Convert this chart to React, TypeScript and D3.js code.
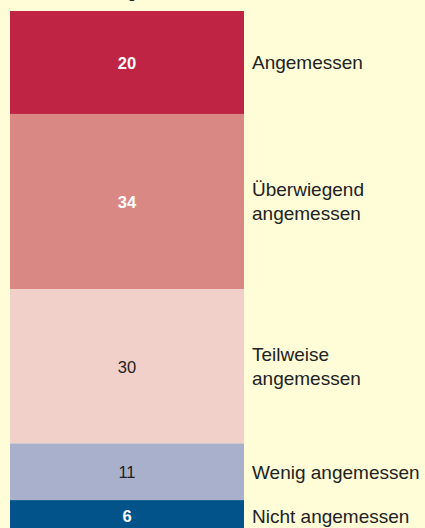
import * as d3 from "d3";

const categories = ["Angemessen", "Überwiegend angemessen", "Teilweise angemessen", "Wenig angemessen", "Nicht angemessen"];
const labelLines = [["Angemessen"], ["Überwiegend", "angemessen"], ["Teilweise", "angemessen"], ["Wenig angemessen"], ["Nicht angemessen"]];
const values = [20, 34, 30, 11, 6];
const colors = ["#c02444", "#d98883", "#f0d0c8", "#a9b0cc", "#02538a"];
const valueColors = ["#ffffff", "#ffffff", "#222222", "#222222", "#ffffff"];
const valueBold = [true, true, false, false, true];

const width = 425;
const height = 528;

export default function App() {
  const total = d3.sum(values);
  const y = d3.scaleLinear().domain([0, total]).range([11, 531]);
  const x0 = 10;
  const x1 = 244;
  const stacked = values.map((v, i) => {
    const start = d3.sum(values.slice(0, i));
    return { v, i, y0: y(start), y1: y(start + v) };
  });
  const font = "'Liberation Sans', Arial, Helvetica, sans-serif";

  return (
    <div style={{ position: "fixed", left: 0, top: 0 }}>
      <svg width={width} height={height} style={{ display: "block" }}>
        <rect width={width} height={height} fill="#fffcd8" />
        <text x={64} y={-2} fontFamily={font} fontSize={14} fontWeight="bold" fill="#222">
          Bewertung
        </text>
        {stacked.map((d) => (
          <g key={categories[d.i]}>
            <rect x={x0} y={d.y0} width={x1 - x0} height={d.y1 - d.y0} fill={colors[d.i]} />
            <text
              x={(x0 + x1) / 2}
              y={(d.y0 + d.y1) / 2 + 0.5}
              textAnchor="middle"
              dominantBaseline="central"
              fontFamily={font}
              fontSize={16.5}
              fontWeight={valueBold[d.i] ? "bold" : "normal"}
              fill={valueColors[d.i]}
            >
              {d.v}
            </text>
            {labelLines[d.i].map((line, j) => (
              <text
                key={j}
                x={252}
                y={(d.y0 + d.y1) / 2 + 0.5 + (j - (labelLines[d.i].length - 1) / 2) * 24}
                dominantBaseline="central"
                fontFamily={font}
                fontSize={19}
                fill="#222"
              >
                {line}
              </text>
            ))}
          </g>
        ))}
      </svg>
    </div>
  );
}
